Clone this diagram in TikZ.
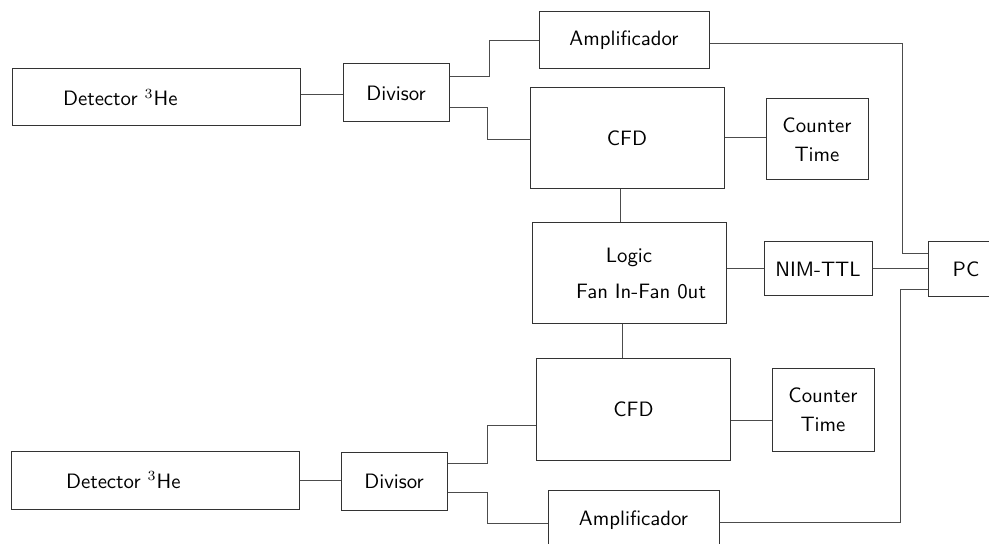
\documentclass[tikz,border=0pt]{standalone}
\usetikzlibrary{calc}
\begin{document}
\begin{tikzpicture}[x=0.5pt,y=-0.5pt,
  box/.style={draw=black!80, line width=0.5pt, inner sep=0pt, align=center,
    font=\sffamily\fontsize{10.4}{12.5}\selectfont},
  wire/.style={draw=black!70, line width=0.5pt}]
\useasboundingbox (0,0) rectangle (989,544);
\clip (0,0) rectangle (989,544);
% top chain
\node[box, minimum width=144pt, minimum height=28.5pt, text width=93pt, inner xsep=25.5pt, align=left] (det1) at (156,97.5) {Detector $^3$He};
\node[box, minimum width=53pt, minimum height=29pt] (div1) at (396,93) {Divisor};
\node[box, minimum width=85pt, minimum height=28.5pt] (amp1) at (624,40.5) {Amplificador};
\node[box, minimum width=97pt, minimum height=50.5pt] (cfd1) at (627,138.5) {CFD};
\node[box, minimum width=51pt, minimum height=40.5pt] (cnt1) at (817,139.5) {Counter\\[2pt]Time};
% middle
\node[box, minimum width=97pt, minimum height=50.5pt] (logic) at (629,273.5) {Logic\\[5.5pt]\hspace*{12pt}Fan In-Fan 0ut};
\node[box, minimum width=54pt, minimum height=27pt] (nim) at (818,269) {NIM-TTL};
\node[box, minimum width=38pt, minimum height=27.5pt] (pc) at (966,269.5) {PC};
% bottom chain
\node[box, minimum width=97pt, minimum height=50.5pt] (cfd2) at (633.5,409.5) {CFD};
\node[box, minimum width=51pt, minimum height=41pt] (cnt2) at (823,410) {Counter\\[2pt]Time};
\node[box, minimum width=144pt, minimum height=29pt, text width=89pt, inner xsep=27.5pt, align=left] (det2) at (155,480) {Detector $^3$He};
\node[box, minimum width=53pt, minimum height=29pt] (div2) at (394,481) {Divisor};
\node[box, minimum width=85.5pt, minimum height=30pt] (amp2) at (633.5,520) {Amplificador};
% connectors
\draw[wire] ([yshift=1.25pt]det1.east) -- ([yshift=1.25pt]det1.east -| div1.west);
\draw[wire] ([yshift=8pt]div1.east) -- ++(20pt,0) |- (amp1.west);
\draw[wire] ([yshift=-7.5pt]div1.east) -- ++(19pt,0) |- ([yshift=-0.75pt]cfd1.west);
\draw[wire] ([yshift=0.25pt]cfd1.east) -- ([yshift=0.25pt]cfd1.east -| cnt1.west);
\draw[wire] ([xshift=-3.5pt]cfd1.south) -- ([xshift=-3.5pt]cfd1.south |- logic.north);
\draw[wire] (nim.west) -- (nim.west -| logic.east);
\draw[wire] (nim.east) -- (nim.east -| pc.west);
\draw[wire] ([yshift=-1.75pt]amp1.east) -- ++(96.5pt,0) |- ([yshift=7.75pt]pc.west);
\draw[wire] ([xshift=-3.5pt]logic.south) -- ([xshift=-3.5pt]logic.south |- cfd2.north);
\draw[wire] ([yshift=-5.75pt]cfd2.east) -- ([yshift=-5.75pt]cfd2.east -| cnt2.west);
\draw[wire] (det2.east) -- (det2.east -| div2.west);
\draw[wire] ([yshift=9pt]div2.east) -- ++(20pt,0) |- ([yshift=-8.25pt]cfd2.west);
\draw[wire] ([yshift=-5.5pt]div2.east) -- ++(20pt,0) |- ([yshift=-1.5pt]amp2.west);
\draw[wire] ([yshift=-1pt]amp2.east) -- ++(90.5pt,0) |- ([yshift=-10.25pt]pc.west);
\end{tikzpicture}
\end{document}
